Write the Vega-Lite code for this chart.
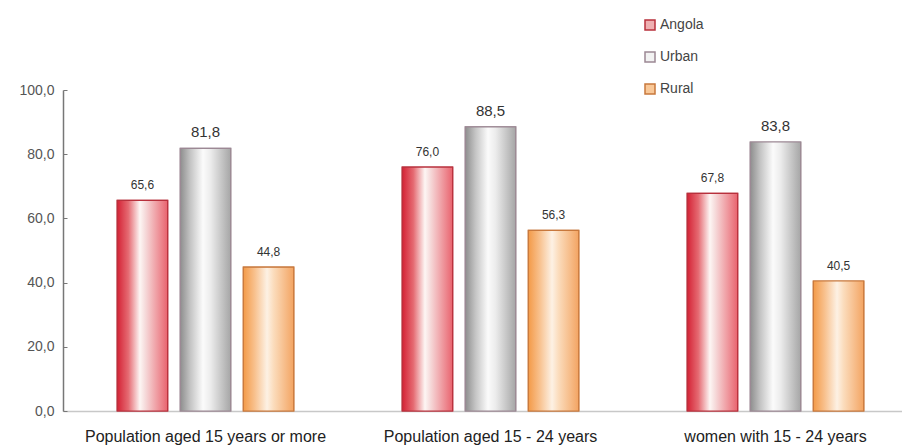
{
  "$schema": "https://vega.github.io/schema/vega-lite/v6.json",
  "autosize": "none",
  "padding": {"left": 63, "top": 90, "right": 0, "bottom": 35},
  "width": 839,
  "height": 321,
  "background": "white",
  "config": {"view": {"stroke": null}, "font": "Liberation Sans",
    "locale": {"number": {"decimal": ",", "thousands": ".", "grouping": [3], "currency": ["", ""]}}},
  "data": {"values": [
    {"group": "Population aged 15 years or more", "series": "Angola", "value": 65.6},
    {"group": "Population aged 15 years or more", "series": "Urban", "value": 81.8},
    {"group": "Population aged 15 years or more", "series": "Rural", "value": 44.8},
    {"group": "Population aged 15 - 24 years", "series": "Angola", "value": 76.0},
    {"group": "Population aged 15 - 24 years", "series": "Urban", "value": 88.5},
    {"group": "Population aged 15 - 24 years", "series": "Rural", "value": 56.3},
    {"group": "women with 15 - 24 years", "series": "Angola", "value": 67.8},
    {"group": "women with 15 - 24 years", "series": "Urban", "value": 83.8},
    {"group": "women with 15 - 24 years", "series": "Rural", "value": 40.5}
  ]},
  "encoding": {
    "x": {"field": "group", "type": "nominal", "sort": null,
      "scale": {"range": [0, 855], "paddingInner": 0, "paddingOuter": 0},
      "axis": {"title": null, "labelAngle": 0, "ticks": false, "labelPadding": 17, "labelLimit": 0,
        "labelFontSize": 16, "labelColor": "#222", "domainColor": "#c8c8c8", "domainWidth": 1.5, "grid": false}},
    "xOffset": {"field": "series", "type": "nominal", "sort": ["Angola", "Urban", "Rural"],
      "scale": {"paddingInner": 0.2, "paddingOuter": 0.86}},
    "y": {"field": "value", "type": "quantitative",
      "scale": {"domain": [0, 100]},
      "axis": {"title": null, "values": [0, 20, 40, 60, 80, 100], "grid": false, "format": ".1f",
        "labelFontSize": 14, "labelColor": "#555", "domainColor": "#777", "domainWidth": 1.5,
        "tickColor": "#777", "tickSize": -4, "labelPadding": 13}},
    "stroke": {"field": "series", "type": "nominal", "sort": ["Angola", "Urban", "Rural"],
      "scale": {"domain": ["Angola", "Urban", "Rural"], "range": ["#b8303c", "#9c8894", "#c8783c"]},
      "legend": null}
  },
  "layer": [
    {
      "mark": {"type": "bar", "strokeWidth": 1.2},
      "encoding": {
        "fill": {"field": "series", "type": "nominal", "sort": ["Angola", "Urban", "Rural"],
          "scale": {"domain": ["Angola", "Urban", "Rural"], "range": ["#eeb0b2", "#f2f2f2", "#f9c898"]},
          "legend": {"title": null, "orient": "none", "legendX": 580, "legendY": -72, "direction": "vertical",
            "symbolType": "square", "symbolSize": 100, "symbolStrokeWidth": 1.5, "rowPadding": 16,
            "labelFontSize": 14, "labelColor": "#444", "labelOffset": 3}},
        "stroke": {"field": "series", "type": "nominal", "sort": ["Angola", "Urban", "Rural"],
          "legend": {"title": null, "orient": "none", "legendX": 580, "legendY": -72, "direction": "vertical",
            "symbolType": "square", "symbolSize": 100, "symbolStrokeWidth": 1.5, "rowPadding": 16,
            "labelFontSize": 14, "labelColor": "#444", "labelOffset": 3}}
      }
    },
    {
      "transform": [{"filter": "datum.series === 'Angola'"}],
      "mark": {"type": "bar", "strokeWidth": 1.2,
        "fill": {"gradient": "linear", "x1": 0, "y1": 0, "x2": 1, "y2": 0,
          "stops": [{"offset": 0, "color": "#d42235"}, {"offset": 0.22, "color": "#e56a72"}, {"offset": 0.45, "color": "#fdf6f4"}, {"offset": 0.55, "color": "#f6dcdc"}, {"offset": 1, "color": "#e9636e"}]}}
    },
    {
      "transform": [{"filter": "datum.series === 'Urban'"}],
      "mark": {"type": "bar", "strokeWidth": 1.2,
        "fill": {"gradient": "linear", "x1": 0, "y1": 0, "x2": 1, "y2": 0,
          "stops": [{"offset": 0, "color": "#8e8e8e"}, {"offset": 0.2, "color": "#c4c4c4"}, {"offset": 0.45, "color": "#fbfbfb"}, {"offset": 0.6, "color": "#ececec"}, {"offset": 1, "color": "#a6a6a6"}]}}
    },
    {
      "transform": [{"filter": "datum.series === 'Rural'"}],
      "mark": {"type": "bar", "strokeWidth": 1.2,
        "fill": {"gradient": "linear", "x1": 0, "y1": 0, "x2": 1, "y2": 0,
          "stops": [{"offset": 0, "color": "#f39a48"}, {"offset": 0.22, "color": "#f8c08c"}, {"offset": 0.47, "color": "#fdf1e4"}, {"offset": 0.6, "color": "#fbdcbc"}, {"offset": 1, "color": "#f3a462"}]}}
    },
    {
      "mark": {"type": "text", "baseline": "bottom", "dy": -8, "color": "#333"},
      "encoding": {
        "stroke": {"value": null},
        "text": {"field": "value", "type": "quantitative", "format": ".1f"},
        "size": {"condition": {"test": "datum.series === 'Urban'", "value": 15}, "value": 12}
      }
    }
  ]
}
